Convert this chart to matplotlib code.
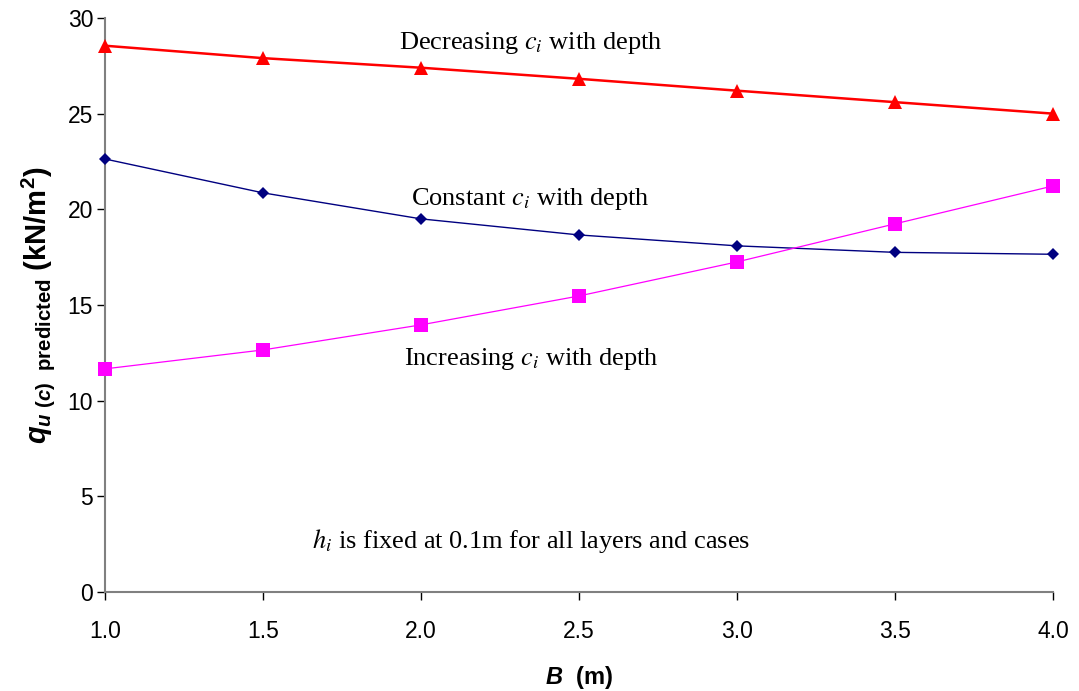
import matplotlib
matplotlib.use("Agg")
import matplotlib.pyplot as plt

# Footing width B (m)
B = [1.0, 1.5, 2.0, 2.5, 3.0, 3.5, 4.0]

# Predicted bearing capacity q_u(c) (kN/m^2) for the three strength profiles
q_decreasing = [28.55, 27.90, 27.40, 26.82, 26.20, 25.60, 25.00]
q_constant = [22.63, 20.86, 19.50, 18.66, 18.09, 17.75, 17.65]
q_increasing = [11.66, 12.65, 13.96, 15.47, 17.25, 19.24, 21.22]

x_ticks = [1.0, 1.5, 2.0, 2.5, 3.0, 3.5, 4.0]
y_ticks = [0, 5, 10, 15, 20, 25, 30]

plt.rcParams["font.family"] = ["Liberation Sans", "DejaVu Sans"]
plt.rcParams["mathtext.fontset"] = "custom"
plt.rcParams["mathtext.rm"] = "Liberation Sans:bold"
plt.rcParams["mathtext.it"] = "Liberation Sans:bold:italic"
plt.rcParams["mathtext.bf"] = "Liberation Sans:bold"

fig = plt.figure(figsize=(10.79, 6.91), dpi=100)
ax = fig.add_axes([0.0973, 0.1433, 0.8786, 0.8307])

ax.plot(B, q_decreasing, color="#FF0000", lw=1.8, marker="^", ms=9.5,
        markeredgewidth=0, zorder=3, clip_on=False)
ax.plot(B, q_constant, color="#000080", lw=1.0, marker="D", ms=6.5,
        markeredgewidth=0, zorder=3, clip_on=False)
ax.plot(B, q_increasing, color="#FF00FF", lw=0.9, marker="s", ms=10,
        markeredgewidth=0, zorder=3, clip_on=False)

ax.set_xlim(1.0, 4.0)
ax.set_ylim(0, 30)
ax.set_xticks(x_ticks)
ax.set_xticklabels([f"{v:.1f}" for v in x_ticks])
ax.set_yticks(y_ticks)
ax.tick_params(axis="both", labelsize=16.5, direction="out", length=5.5,
               width=1, color="black")
ax.tick_params(axis="x", pad=15)
ax.tick_params(axis="y", pad=3)

for side in ("top", "right"):
    ax.spines[side].set_visible(False)
ax.spines["left"].set_color("#808080")
ax.spines["left"].set_linewidth(1.5)
ax.spines["bottom"].set_color("#808080")
ax.spines["bottom"].set_linewidth(1.5)

ax.set_xlabel(r"$B$  (m)", fontsize=17, fontweight="bold", labelpad=15)
ax.set_ylabel(r"$q_{u\ (c)\ \ \mathrm{predicted}}$ (kN/m$^2$)",
              fontsize=21, fontweight="bold", labelpad=8)

serif = dict(family=["Liberation Serif", "DejaVu Serif"], fontsize=19,
             math_fontfamily="stix", ha="center", va="center")
ax.text(2.348, 28.7, r"Decreasing $c_i$ with depth", **serif)
ax.text(2.345, 20.55, r"Constant $c_i$ with depth", **serif)
ax.text(2.348, 12.2, r"Increasing $c_i$ with depth", **serif)
ax.text(2.348, 2.67, r"$h_i$ is fixed at 0.1m for all layers and cases", **serif)

fig.savefig("out.png", dpi=100)
